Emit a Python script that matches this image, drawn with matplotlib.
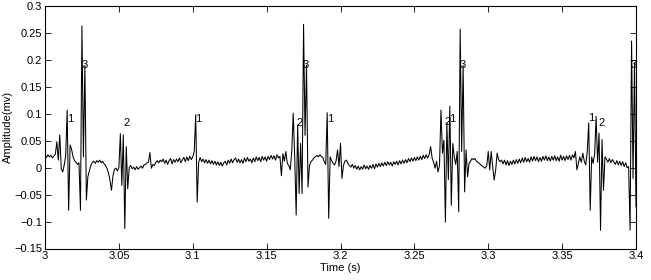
import numpy as np
import matplotlib
matplotlib.use("Agg")
import matplotlib.pyplot as plt
from matplotlib.ticker import FuncFormatter

plt.rcParams['font.family'] = ['Liberation Sans', 'DejaVu Sans']

# sampled signal, 1 ms steps starting at 3.0 s
t0 = 3.0
fs = 1000.0
amplitude = [
    0.022, 0.019, 0.024, 0.020, 0.023, 0.018, 0.022, 0.025, 0.048, 0.014,
    0.061, -0.002, -0.008, 0.005, 0.022, 0.107, -0.079, 0.042, 0.034, 0.020,
    0.013, 0.010, 0.006, 0.009, -0.079, 0.263, 0.020, 0.190, -0.060, -0.017,
    -0.006, 0.004, 0.010, 0.012, 0.008, 0.013, 0.010, 0.014, 0.009, 0.012,
    0.007, 0.004, -0.002, -0.010, -0.024, -0.042, -0.015, -0.003, -0.001, -0.006,
    0.000, 0.063, -0.033, 0.061, -0.113, 0.039, -0.039, 0.000, 0.004, -0.002,
    0.001, -0.004, 0.002, -0.003, 0.000, 0.003, -0.001, 0.005, 0.006, 0.009,
    0.010, 0.028, -0.001, 0.006, 0.004, 0.010, 0.013, 0.009, 0.014, 0.011,
    0.016, 0.008, 0.014, 0.006, 0.013, 0.017, 0.007, 0.015, 0.010, 0.016,
    0.011, 0.018, 0.009, 0.015, 0.019, 0.011, 0.020, 0.013, 0.021, 0.015,
    0.020, 0.030, 0.098, -0.064, 0.010, 0.019, 0.011, 0.016, 0.009, 0.015,
    0.008, 0.014, 0.007, 0.013, 0.006, 0.012, 0.005, 0.011, 0.004, 0.010,
    0.003, 0.009, 0.012, 0.005, 0.014, 0.008, 0.016, 0.009, 0.015, 0.018,
    0.010, 0.016, 0.009, 0.015, 0.008, 0.018, 0.011, 0.019, 0.012, 0.016,
    0.009, 0.018, 0.011, 0.020, 0.013, 0.019, 0.011, 0.021, 0.014, 0.020,
    0.012, 0.021, 0.015, 0.023, 0.016, 0.022, 0.014, 0.024, 0.018, 0.021,
    -0.015, 0.026, 0.012, 0.030, 0.008, 0.004, -0.004, 0.030, 0.101, 0.020,
    -0.088, 0.079, -0.048, 0.045, -0.048, 0.266, 0.060, 0.190, -0.036, 0.004,
    0.011, 0.014, 0.018, 0.020, 0.023, 0.020, 0.024, 0.021, 0.019, 0.011,
    0.006, 0.102, -0.094, 0.020, 0.013, 0.008, 0.005, 0.012, 0.033, 0.002,
    0.045, -0.020, 0.004, 0.012, 0.014, 0.008, 0.004, 0.001, 0.006, -0.001,
    0.004, -0.003, 0.003, -0.004, 0.002, -0.003, 0.005, -0.002, 0.003, -0.003,
    0.004, -0.001, 0.006, -0.002, 0.007, 0.001, 0.008, 0.002, 0.009, 0.003,
    0.010, 0.004, 0.011, 0.005, 0.010, 0.003, 0.011, 0.006, 0.012, 0.005,
    0.013, 0.007, 0.014, 0.008, 0.015, 0.009, 0.017, 0.011, 0.018, 0.012,
    0.019, 0.013, 0.020, 0.014, 0.021, 0.015, 0.023, 0.017, 0.024, 0.018,
    0.024, 0.039, 0.018, 0.010, -0.001, 0.012, -0.008, 0.004, 0.107, 0.027,
    0.051, -0.101, 0.083, -0.022, 0.114, -0.070, 0.045, 0.020, 0.006, 0.030,
    -0.082, 0.257, 0.030, 0.190, -0.045, 0.033, -0.017, 0.008, 0.012, 0.017,
    0.015, 0.017, 0.012, 0.010, 0.008, 0.005, 0.003, 0.001, -0.001, 0.004,
    0.030, -0.004, 0.030, 0.002, -0.023, -0.005, 0.027, 0.015, 0.011, 0.014,
    0.007, 0.014, 0.005, 0.013, 0.004, 0.012, 0.006, 0.014, 0.007, 0.015,
    0.008, 0.016, 0.009, 0.018, 0.010, 0.019, 0.011, 0.017, 0.010, 0.020,
    0.012, 0.021, 0.013, 0.020, 0.011, 0.019, 0.012, 0.021, 0.014, 0.022,
    0.013, 0.020, 0.012, 0.021, 0.014, 0.022, 0.013, 0.020, 0.012, 0.023,
    0.014, 0.021, 0.013, 0.022, 0.015, 0.023, 0.014, 0.024, 0.018, 0.030,
    -0.004, 0.008, 0.020, 0.010, 0.027, 0.012, 0.005, 0.030, 0.083, -0.079,
    0.020, 0.008, 0.025, 0.095, 0.010, 0.064, -0.116, 0.052, -0.042, 0.020,
    0.016, 0.010, 0.017, 0.009, 0.015, 0.011, 0.006, 0.013, 0.005, 0.012,
    0.004, 0.011, 0.002, 0.009, 0.000, 0.002, -0.116, 0.235, -0.020, 0.195,
    -0.073, 0.030, 0.000,
]

# peak markers
label_times = [3.0169, 3.0270, 3.0553, 3.1035, 3.1720, 3.1766, 3.1928,
               3.2722, 3.2759, 3.2824, 3.3700, 3.3770, 3.3986]
label_amps = [0.091, 0.190, 0.083, 0.091, 0.083, 0.190, 0.091,
              0.084, 0.091, 0.190, 0.092, 0.083, 0.190]
label_texts = ['1', '3', '2', '1', '2', '3', '1', '2', '1', '3', '1', '2', '3']

xticks = [3.0, 3.05, 3.1, 3.15, 3.2, 3.25, 3.3, 3.35, 3.4]
yticks = [-0.15, -0.1, -0.05, 0.0, 0.05, 0.1, 0.15, 0.2, 0.25, 0.3]

time = t0 + np.arange(len(amplitude)) / fs

fig = plt.figure(figsize=(6.51, 2.8), dpi=100)
ax = fig.add_axes([45 / 651, 31.5 / 280, 591 / 651, 242.5 / 280])
ax.plot(time, amplitude, color='black', linewidth=0.75)

for tt, aa, s in zip(label_times, label_amps, label_texts):
    ax.text(tt, aa, s, fontsize=8, ha='center', va='center')

ax.set_xlim(3.0, 3.4)
ax.set_ylim(-0.15, 0.3)
ax.set_xticks(xticks)
ax.set_yticks(yticks)

fmt = FuncFormatter(lambda v, p: ('%g' % round(v, 4)).replace('-', '\u2212'))
ax.xaxis.set_major_formatter(fmt)
ax.yaxis.set_major_formatter(fmt)

ax.tick_params(direction='in', length=4, width=0.6, labelsize=8,
               top=True, right=True, pad=2)
for sp in ax.spines.values():
    sp.set_linewidth(0.8)

ax.set_xlabel('Time (s)', fontsize=8, labelpad=1)
ax.set_ylabel('Amplitude(mv)', fontsize=8, labelpad=1)

fig.savefig('out.png', dpi=100)
